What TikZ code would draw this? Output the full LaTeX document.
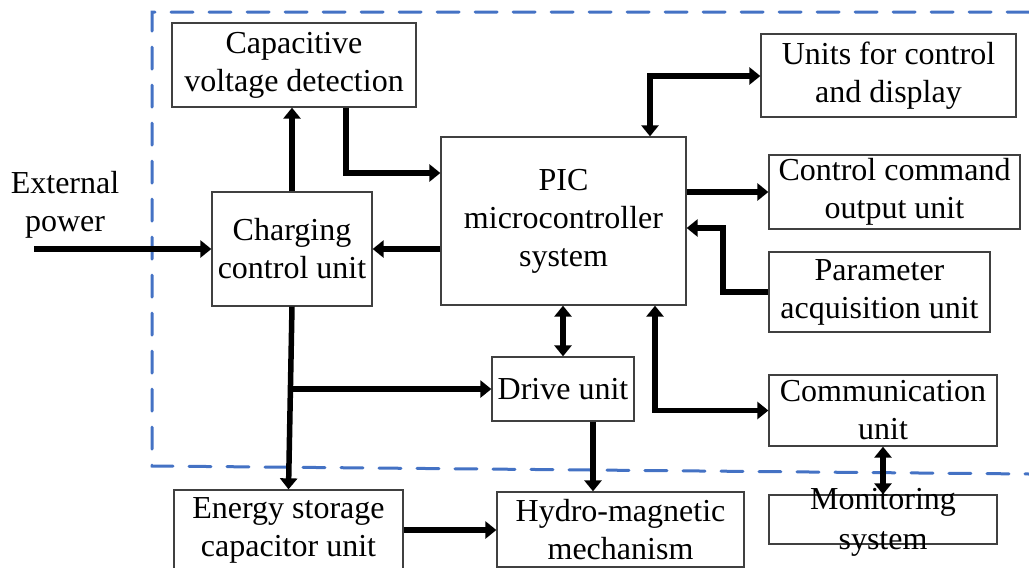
\documentclass[tikz,border=0pt]{standalone}
\usepackage{fontspec}
\setmainfont{Liberation Serif}
\usetikzlibrary{arrows.meta,calc}
\definecolor{blueline}{HTML}{4472C4}
\begin{document}
\begin{tikzpicture}[x=1pt,y=-1pt,
  txt/.style={align=center, inner sep=2pt, font=\fontsize{32}{38}\selectfont},
  box/.style={txt, draw=black!75, line width=1.3pt},
  arr/.style={line width=5.5pt, -{Triangle[width=17pt,length=11pt]}},
  dbl/.style={line width=5.5pt, {Triangle[width=17pt,length=11pt]}-{Triangle[width=17pt,length=11pt]}},
  border/.style={draw=blueline, line width=3pt, dash pattern=on 22pt off 16pt, line cap=round}]
\useasboundingbox (0,0) rectangle (1029,568);
% dashed boundary
\draw[border] (1029,12) -- (152,12) -- (152,466) -- (1029,474);
% nodes
\node[box, minimum width=244pt, minimum height=84pt] (cap) at (294,65) {Capacitive\\voltage detection};
\node[box, minimum width=160pt, minimum height=114pt] (chg) at (292,249) {Charging\\control unit};
\node[box, minimum width=245pt, minimum height=168pt] (pic) at (563.5,221) {PIC\\microcontroller\\system};
\node[box, minimum width=255pt, minimum height=83pt] (ucd) at (888.5,75.5) {Units for control\\and display};
\node[box, minimum width=251pt, minimum height=74pt] (cco) at (894.5,192) {Control command\\output unit};
\node[box, minimum width=221pt, minimum height=80pt] (par) at (879.5,292) {Parameter\\acquisition unit};
\node[box, minimum width=142pt, minimum height=64pt] (drv) at (563,389) {Drive unit};
\node[box, minimum width=228pt, minimum height=71pt] (com) at (883,410.5) {Communication\\unit};
\node[box, minimum width=228pt, minimum height=49pt] (mon) at (883,519.5) {\smash{\raisebox{-8pt}{\fontsize{32}{40}\selectfont\begin{tabular}{@{}c@{}}Monitoring\\system\end{tabular}}}};
\node[box, minimum width=229pt, minimum height=80pt] (ene) at (288.5,530) {Energy storage\\capacitor unit};
\node[box, minimum width=247pt, minimum height=75pt] (hyd) at (620.5,529.5) {Hydro-magnetic\\mechanism};
\node[txt] (ext) at (65,205) {External\\power};
\coordinate (extin) at (34,249);
% connectors
\draw[arr] (extin) -- (chg.west);
\draw[arr] (pic.west |- chg.east) -- (chg.east);
\draw[arr] (chg.north) -- (cap.south -| chg.north);
\draw[arr] (346,0 |- cap.south) -- (346,173) -- (pic.west |- 0,173);
\draw[dbl] (650,0 |- pic.north) -- (650,76) -- (ucd.west |- 0,76);
\draw[arr] (pic.east |- cco.west) -- (cco.west);
\draw[arr] (par.west) -- (723,0 |- par.west) -- (723,228) -- (pic.east |- 0,228);
\draw[dbl] (655,0 |- pic.south) |- (com.west);
\draw[dbl] (pic.south -| drv.north) -- (drv.north);
\draw[arr] (chg.south) -- (ene.north);
\coordinate (br) at ($(chg.south)!0.451!(ene.north)$);
\draw[arr] (br) -- (drv.west |- br);
\draw[arr] (593,0 |- drv.south) -- (593,0 |- hyd.north);
\draw[arr] (ene.east) -- (hyd.west |- ene.east);
\draw[dbl] (com.south) -- (mon.north);
\end{tikzpicture}
\end{document}
